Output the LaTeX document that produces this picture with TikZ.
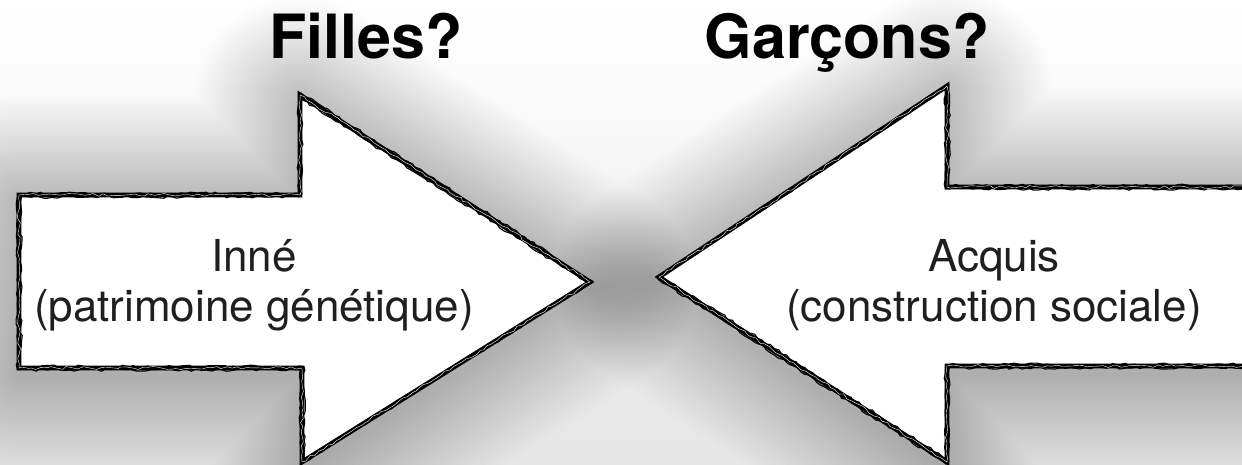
\documentclass[tikz,border=0pt]{standalone}
\usepackage{fontspec}
\setmainfont{TeX Gyre Heros}
\usetikzlibrary{decorations.pathmorphing}
\begin{document}
\begin{tikzpicture}[x=1pt,y=-1pt,
  arrowshape/.style={fill=white, draw=black, line width=4.8pt, line join=miter},
  halo/.style={draw=black, line join=round, opacity=0.0075},
  sketchline/.style={draw=black, line width=1.1pt, decorate,
    decoration={random steps, segment length=5pt, amplitude=1.5pt}},
  titletext/.style={font=\fontsize{61}{70}\selectfont\bfseries, anchor=base, inner sep=0pt},
  bodytext/.style={font=\fontsize{44}{50}\selectfont, text=black!88, anchor=base, inner sep=0pt}]
\useasboundingbox (0,0) rectangle (1242,464);
\clip (0,0) rectangle (1242,464);
\shade[top color=white, bottom color=black!10] (0,0) rectangle (1242,464);
\def\leftarrow{(19,195) -- (300,195) -- (300,95) -- (590,282) -- (302,462) -- (302,368) -- (19,368) -- cycle}
\def\rightarrowp{(1260,187) -- (947,187) -- (947,86) -- (659,277) -- (947,462) -- (947,366) -- (1260,366) -- cycle}
% soft shadows
\foreach \w in {1,...,30}{
  \draw[halo, line width=\w*7pt, yshift=-6pt] \leftarrow;
  \draw[halo, line width=\w*7pt, yshift=-6pt] \rightarrowp;
}
% left arrow (Inné)
\path[arrowshape] \leftarrow;
\draw[sketchline, xshift=1.8pt, yshift=1.4pt] \leftarrow;
\draw[sketchline, xshift=-1.4pt, yshift=-1.8pt] \leftarrow;
\draw[sketchline, white, line width=0.4pt] \leftarrow;
% right arrow (Acquis)
\path[arrowshape] \rightarrowp;
\draw[sketchline, xshift=1.8pt, yshift=1.4pt] \rightarrowp;
\draw[sketchline, xshift=-1.4pt, yshift=-1.8pt] \rightarrowp;
\draw[sketchline, white, line width=0.4pt] \rightarrowp;
% texts
\node[titletext] (filles) at (366,58) {Filles?};
\node[titletext] (garcons) at (847,58) {Garçons?};
\node[bodytext] (inne) at (254,271) {Inné};
\node[bodytext] (patrimoine) at (254,321) {(patrimoine génétique)};
\node[bodytext] (acquis) at (994,271) {Acquis};
\node[bodytext] (construction) at (994,321) {(construction sociale)};
\end{tikzpicture}
\end{document}
